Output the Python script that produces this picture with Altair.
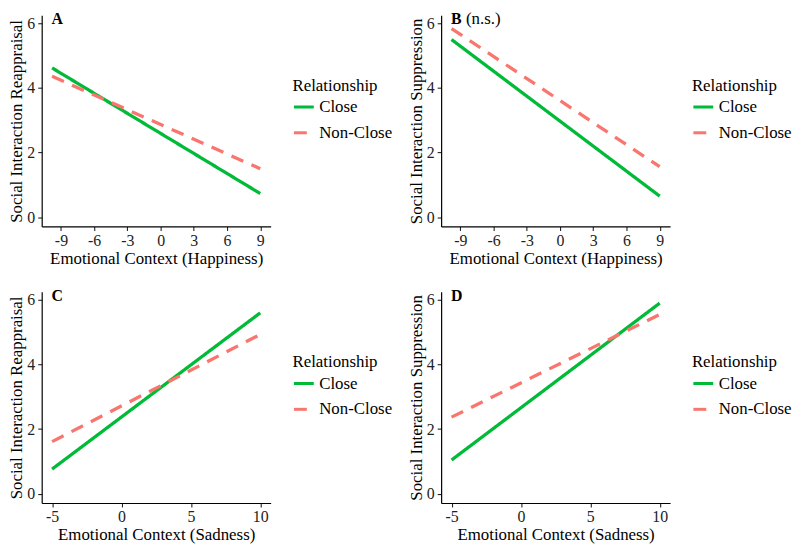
import altair as alt
import pandas as pd

# ---- data ----
groups = ["Close", "Non-Close"]
happy_x = [-9.8, 9.0]
sad_x = [-5.0, 10.0]

a_close = [4.62, 0.73]
a_non = [4.36, 1.50]
b_close = [5.50, 0.65]
b_non = [5.84, 1.56]
c_close = [0.76, 5.60]
c_non = [1.61, 4.93]
d_close = [1.04, 5.90]
d_non = [2.37, 5.55]

happy_ticks = [-9, -6, -3, 0, 3, 6, 9]
sad_ticks = [-5, 0, 5, 10]
y_ticks = [0, 2, 4, 6]

happy_domain = [-10.74, 9.94]
sad_domain = [-5.75, 10.75]
y_domain = [-0.29, 6.25]

colors = ["#00BA38", "#F8766D"]
dashes = [[1, 0], [13, 9]]
FONT = "Liberation Serif"
W, H = 231, 213


def panel(xs, close, non, xdom, xticks, xtitle, ytitle, letter, note=None):
    rows = []
    for g, ys in zip(groups, [close, non]):
        for x, y in zip(xs, ys):
            rows.append({"x": x, "y": y, "Relationship": g})
    df = pd.DataFrame(rows)
    legend = alt.Legend(
        title="Relationship", orient="none", legendX=253, legendY=63,
        symbolType="stroke", symbolSize=400, symbolStrokeWidth=3,
        labelOffset=4, rowPadding=6, titlePadding=1, padding=0,
    )
    lines = alt.Chart(df).mark_line(strokeWidth=3.3, strokeCap="butt").encode(
        x=alt.X("x:Q", title=xtitle,
                scale=alt.Scale(domain=xdom, nice=False, zero=False),
                axis=alt.Axis(values=xticks, labelExpr="'' + datum.value")),
        y=alt.Y("y:Q", title=ytitle,
                scale=alt.Scale(domain=y_domain, nice=False, zero=False),
                axis=alt.Axis(values=y_ticks, labelExpr="'' + datum.value")),
        color=alt.Color("Relationship:N",
                        scale=alt.Scale(domain=groups, range=colors),
                        legend=legend),
        strokeDash=alt.StrokeDash("Relationship:N",
                                  scale=alt.Scale(domain=groups, range=dashes),
                                  legend=legend),
    )
    layers = [lines]
    lab = alt.Chart(pd.DataFrame({"t": [letter]})).mark_text(
        font=FONT, fontSize=16, fontWeight="bold", align="left",
        baseline="alphabetic", color="black"
    ).encode(text="t:N", x=alt.value(10), y=alt.value(9))
    layers.append(lab)
    if note:
        nt = alt.Chart(pd.DataFrame({"t": [note]})).mark_text(
            font=FONT, fontSize=17, align="left",
            baseline="alphabetic", color="black"
        ).encode(text="t:N", x=alt.value(25), y=alt.value(9))
        layers.append(nt)
    return alt.layer(*layers).properties(width=W, height=H).resolve_scale(
        color="independent", strokeDash="independent")


pa = panel(happy_x, a_close, a_non, happy_domain, happy_ticks,
           "Emotional Context (Happiness)", "Social Interaction Reappraisal", "A")
pb = panel(happy_x, b_close, b_non, happy_domain, happy_ticks,
           "Emotional Context (Happiness)", "Social Interaction Suppression", "B", "(n.s.)")
pc = panel(sad_x, c_close, c_non, sad_domain, sad_ticks,
           "Emotional Context (Sadness)", "Social Interaction Reappraisal", "C")
pd_ = panel(sad_x, d_close, d_non, sad_domain, sad_ticks,
            "Emotional Context (Sadness)", "Social Interaction Suppression", "D")

chart = alt.concat(
    pa, pb, pc, pd_, columns=2,
    spacing={"row": 66, "column": 172},
    bounds="flush",
).resolve_scale(
    x="independent", y="independent", color="independent", strokeDash="independent"
).resolve_legend(
    color="independent", strokeDash="independent"
).properties(
    padding={"left": 0, "top": 0, "right": 0, "bottom": 0}
).configure_view(
    stroke=None
).configure_axis(
    grid=False, domainColor="black", domainWidth=1.2, tickColor="#222",
    tickSize=4, tickWidth=1.1, labelFont=FONT, labelFontSize=16,
    labelColor="#222", labelPadding=3, titleFont=FONT, titleFontSize=17,
    titleFontWeight="normal", titleColor="black", titlePadding=1,
).configure_axisX(
    labelPadding=2, titlePadding=2,
).configure_legend(
    titleFont=FONT, titleFontSize=17, titleFontWeight="normal",
    titleColor="black", labelFont=FONT, labelFontSize=17, labelColor="black",
)

chart.save("out.html", embed_options={"renderer": "svg", "actions": False})
